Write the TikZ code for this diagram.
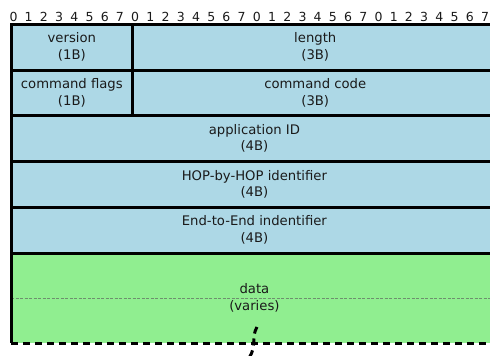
\documentclass[tikz,border=0pt]{standalone}
\usepackage{fontspec}
\setmainfont{DejaVu Sans}
\definecolor{fieldblue}{HTML}{ADD8E6}
\definecolor{fieldgreen}{HTML}{90EE90}
\definecolor{midline}{HTML}{6E8F6E}
\definecolor{txt}{HTML}{1A1A1A}
\begin{document}
\begin{tikzpicture}[x=1pt,y=-1pt,
  field/.style={draw=black, line width=3pt, fill=fieldblue, inner sep=0pt, outer sep=0pt,
    minimum height=46pt, align=center, text=txt, font=\fontsize{13.2}{16.5}\selectfont},
  bitlabel/.style={inner sep=0pt, text=txt, font=\fontsize{12.5}{13}\selectfont},
  datatext/.style={align=center, text=txt, inner sep=0pt, font=\fontsize{13.2}{16.5}\selectfont}]
\useasboundingbox (0,0) rectangle (490,356);
\clip (0,0) rectangle (490,356);

% bit numbers across the top
\foreach \i in {0,...,31} {
  \pgfmathtruncatemacro\d{mod(\i,8)}
  \node[bitlabel] (bit\i) at ({13.5+15.21*\i},17) {\d};
}

% variable-length payload (drawn first so the header borders lie on top)
\node[fill=fieldgreen, inner sep=0pt, outer sep=0pt, minimum width=486.8pt, minimum height=90pt]
  (data) at (254.4,298) {};
\draw[midline, line width=1pt, dash pattern=on 3pt off 1.5pt] (data.west) -- (data.east);
\node[datatext] (datalabel) at (254.4,298) {data\\(varies)};

% header words (one byte = 121.7pt, one word = 486.8pt)
\node[field, minimum width=121.7pt] (version) at (71.85,47) {version\\(1B)};
\node[field, minimum width=365.1pt] (length) at (315.25,47) {length\\(3B)};
\node[field, minimum width=121.7pt] (flags) at (71.85,93) {command flags\\(1B)};
\node[field, minimum width=365.1pt] (code) at (315.25,93) {command code\\(3B)};
\node[field, minimum width=486.8pt] (appid) at (254.4,138.5) {application ID\\(4B)};
\node[field, minimum width=486.8pt, minimum height=45.5pt] (hop) at (254.4,184.25) {HOP-by-HOP identifier\\(4B)};
\node[field, minimum width=486.8pt, minimum height=46pt] (e2e) at (254.4,230) {End-to-End indentifier\\(4B)};

% open end of the payload
\draw[black, line width=3pt] (e2e.south west) -- (data.south west);
\draw[black, line width=3pt, dash pattern=on 7pt off 5pt] (data.south west) -- (data.south east);

% break mark on the open end
\draw[black, line width=3pt, dash pattern=on 7pt off 5pt]
  (257,327) .. controls (251,337) and (257,346) .. (249,358);
\end{tikzpicture}
\end{document}
